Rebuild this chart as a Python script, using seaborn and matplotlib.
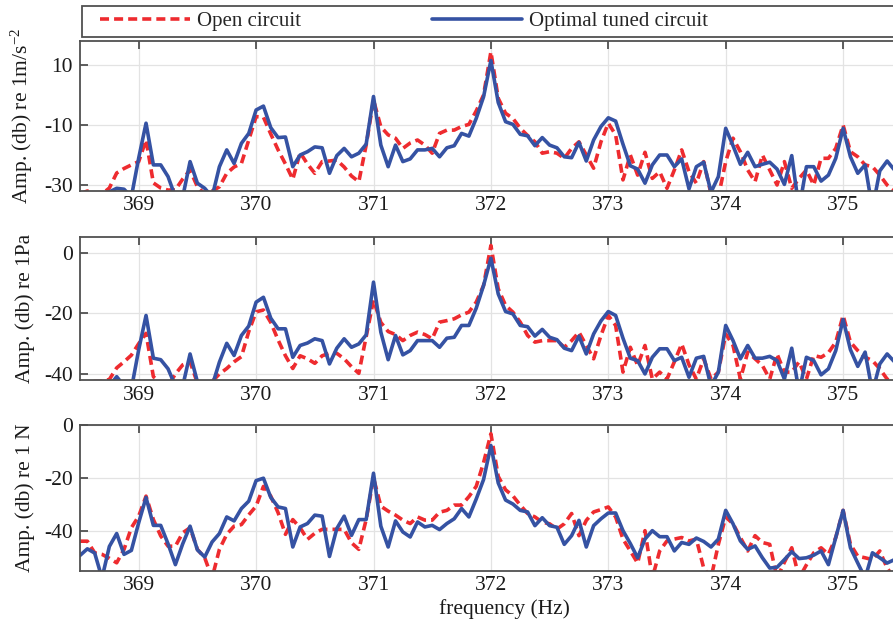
import numpy as np
import pandas as pd
import matplotlib
matplotlib.use("Agg")
import matplotlib.pyplot as plt
import seaborn as sns
from matplotlib.lines import Line2D
from matplotlib.patches import Rectangle

# ---------------- data ----------------
freq_start = 368.5      # Hz, first frequency bin
freq_step = 0.0625      # Hz, bin spacing
n_bins = 112
freq = freq_start + freq_step * np.arange(n_bins)

xticks = [369, 370, 371, 372, 373, 374, 375]

# acceleration, dB re 1 m/s^2
acc_open = [
    -33, -32, -33, -33, -31, -26, -24.5, -23.3, -22.2, -15,
    -29.3, -31, -31.7, -31.6, -28, -25, -30.6, -33, -32, -30.6,
    -26.1, -24, -22.8, -15, -7.2, -7.4, -13, -18.3, -23, -28.1,
    -19.2, -23, -26.1, -22.2, -22, -21.7, -24, -27, -28.9, -16.7,
    -1.7, -10.6, -13.3, -14.4, -17.8, -16, -15, -16.7, -19.4, -12.8,
    -11.7, -11.7, -10.5, -9.8, -5.3, 0, 14.4, -1.1, -6.1, -7.8,
    -11.1, -13.5, -15.6, -19.4, -18.9, -19.4, -21.1, -17.8, -15.6, -20,
    -24.4, -15.6, -9.4, -13.3, -28.3, -20, -26.7, -19.1, -27.8, -25.6,
    -31.1, -25, -18.3, -25.6, -29.4, -22.2, -33, -34, -22.2, -14.4,
    -18.9, -25, -28.9, -20, -25, -30, -22.2, -31.1, -27.8, -25,
    -30, -21.1, -21.1, -17.8, -10, -18.9, -20.6, -23.3, -23.9, -26.7,
    -30, -32]
acc_tuned = [
    -38, -38, -38, -36, -32.3, -31.1, -31.4, -34, -21, -9.4,
    -23.3, -23.3, -27.2, -34, -34, -22.2, -29.4, -31.1, -34, -23.9,
    -18.3, -22.8, -16.1, -12.8, -5, -3.7, -10.9, -14.2, -14, -23.9,
    -20, -18.9, -17.3, -17.6, -26.1, -20.2, -17.8, -20.6, -19.4, -16.4,
    -0.5, -16.7, -23.9, -16.7, -22.2, -21.3, -18.3, -18.3, -17.8, -20.6,
    -17.6, -16.9, -12.8, -13.7, -7.8, -0.6, 11.5, -2.5, -8.9, -9.8,
    -13.1, -13.6, -16.9, -14.2, -16.7, -17.6, -20.6, -20.9, -15.8, -22,
    -15, -10.5, -7.6, -8.7, -16.4, -23.6, -24.7, -29.4, -23.3, -20,
    -20, -23.9, -21.3, -31.3, -23.9, -22.4, -32.4, -27.2, -11.1, -16.9,
    -23.1, -19.1, -23.9, -23.1, -22.4, -24.7, -29.8, -20.2, -38, -23.9,
    -23.9, -28.7, -26.7, -21.1, -11.1, -20.6, -26.1, -23.3, -38, -25.3,
    -22, -25]

# pressure, dB re 1 Pa
pa_open = [
    -44, -43, -42.5, -42.5, -41.8, -38, -36, -33.8, -30, -26.6,
    -40.9, -43, -44, -40, -37, -36, -43, -44, -42.5, -40,
    -38.2, -36, -34.3, -26, -19.5, -18.9, -23, -28.8, -34, -38.2,
    -34, -35, -36.5, -34, -33.2, -33.2, -35, -37.6, -39.8, -27.7,
    -15.6, -23, -26, -27, -29, -27.3, -26.2, -27, -28.4, -22.9,
    -22.4, -21.8, -20.5, -19.6, -16.3, -10.8, 2.4, -11.9, -17.4, -19.6,
    -22.9, -27.3, -29.5, -29, -29, -29, -31.2, -29, -26.2, -30.6,
    -35, -27.3, -20.7, -24, -39.4, -31.2, -37.2, -30.6, -41.7, -39.4,
    -41.7, -36, -30.1, -37, -41.7, -35, -41.7, -39.4, -26.8, -30.6,
    -41.7, -32.8, -35, -37.2, -41.7, -33.4, -39.4, -39.4, -36, -41.7,
    -33.9, -34.5, -33, -29.5, -20.7, -29.5, -32.3, -34.5, -35.6, -38.3,
    -41.7, -43]
pa_tuned = [
    -46, -46, -46, -46, -44, -40.9, -44, -45, -32, -20.7,
    -34.8, -35.3, -38.3, -44, -44, -33.4, -42.6, -44, -44, -36.1,
    -29.9, -33.9, -27.3, -24.2, -16.3, -14.7, -21.6, -25.1, -25.1, -34.5,
    -30.6, -29.8, -28.4, -29, -36.7, -31.5, -28.4, -31.2, -30.1, -27.1,
    -9.7, -26.2, -35.3, -27.3, -33.7, -32.3, -29, -29, -29, -31.2,
    -28.2, -27.9, -24, -24, -18.3, -10.8, -1.8, -13.6, -19.4, -20.2,
    -24, -24.4, -27.5, -25.3, -27.9, -28.7, -31.5, -32.3, -27.5, -33.4,
    -26.8, -22.5, -19.4, -20.7, -28.2, -34.8, -35.6, -40, -34.5, -31.7,
    -31.7, -35.6, -34.5, -41.1, -34.8, -34.2, -44, -39.4, -24, -29,
    -35, -30.6, -34.8, -34.8, -34.2, -35.6, -41.7, -31.5, -46, -34.5,
    -35.6, -40.3, -38.3, -32.3, -22, -32, -37.5, -32.8, -46, -36.7,
    -33.4, -36]

# force, dB re 1 N
n_open = [
    -44, -44, -48.4, -49, -50.5, -52.2, -47.1, -38.9, -34.5, -26.9,
    -35.8, -42, -45.9, -45.9, -40.8, -38.9, -47.1, -50.3, -58, -47.1,
    -41.4, -38.3, -37.7, -34, -30.7, -23.2, -26.9, -33.2, -41.4, -35.8,
    -38.9, -43.3, -41, -39.5, -39.5, -39.5, -39.5, -44.6, -47.1, -35.8,
    -20, -30.7, -32.6, -34.1, -36, -37.3, -34.8, -36, -36, -33,
    -32.3, -30.3, -30.3, -27.1, -23.2, -14.2, -3.2, -19.4, -24.5, -26.8,
    -30.3, -33.5, -34.8, -36.8, -37.4, -39.4, -37.4, -33.5, -41.9, -36.1,
    -32.9, -32, -31, -34.8, -43.2, -47.7, -52.3, -40, -58, -47.7,
    -43.9, -43.2, -42.6, -43.9, -43.2, -54.2, -58, -45.2, -34.8, -37.4,
    -42.6, -47.7, -41.9, -44.5, -45.2, -58, -52, -46.5, -58, -53,
    -48.4, -46.5, -49, -42.6, -32.3, -45.2, -49.7, -50.3, -51, -47.7,
    -54.2, -58]
n_tuned = [
    -49.4, -46.9, -48.5, -58, -46, -41.1, -49, -47.5, -37, -27.4,
    -38, -38, -45, -52.9, -45, -38.3, -47.3, -50, -44.3, -41.1,
    -34.8, -36.3, -31.6, -28.8, -21, -20.1, -27.4, -31, -31.6, -46.2,
    -38.6, -37.3, -34.1, -34.5, -49.8, -39.2, -34.5, -41.8, -35.8, -35.8,
    -18.2, -38.3, -46.2, -36.3, -40.5, -42.4, -36.7, -38.6, -38, -39.6,
    -37.3, -35.5, -31.6, -34.8, -28, -20.6, -7.7, -21.9, -28.4, -29.9,
    -32.3, -32.9, -38.1, -35.1, -38.1, -38.7, -45.2, -41.9, -36.1, -46.2,
    -38.1, -35.5, -33.3, -33.3, -40, -44.9, -50.3, -43.2, -40, -42.3,
    -42.3, -47.7, -44.5, -45.2, -42.8, -44.1, -46.2, -43.2, -32.3, -37.4,
    -43.9, -47.1, -45.8, -50.3, -54.2, -53.9, -51, -48, -50.6, -50.3,
    -49.3, -47.7, -52.9, -42.6, -32.3, -46.5, -52.3, -58, -48.4, -50.3,
    -52.3, -51]

series_labels = ["Open circuit", "Optimal tuned circuit"]
ylabels = ["Amp. (db) re 1m/s$^{\\mathrm{-2}}$", "Amp. (db) re 1Pa", "Amp. (db) re 1 N"]
yticks_list = [[-30, -10, 10], [-40, -20, 0], [-40, -20, 0]]
ylims = [(-31.9, 18.1), (-42.0, 5.1), (-55.2, 0.1)]

# ---------------- style ----------------
sns.set_theme(style="white")
plt.rcParams['font.family'] = ['Liberation Serif', 'DejaVu Serif']
plt.rcParams['mathtext.fontset'] = 'custom'
plt.rcParams['mathtext.rm'] = 'Liberation Serif'
plt.rcParams['mathtext.it'] = 'Liberation Serif:italic'
plt.rcParams['axes.unicode_minus'] = False

RED = "#EE2B2F"
BLUE = "#3552A3"
EDGE = "#505050"
FS = 15.5
LW = 2.6
DASH = (0, (2.5, 1.4))

W, H = 893, 633
fig = plt.figure(figsize=(W / 100, H / 100), dpi=100)

px_per_hz = 117.4
ax_left_px = 80
ax_w = 0.95
x_right = freq_start + ax_w * W / px_per_hz

# panel rectangles in pixels (top, bottom)
panels_px = [(40.7, 190.7), (237.3, 380.0), (425.0, 570.7)]

data_pairs = [(acc_open, acc_tuned), (pa_open, pa_tuned), (n_open, n_tuned)]

axes = []
for k, ((top, bot), (open_v, tuned_v)) in enumerate(zip(panels_px, data_pairs)):
    ax = fig.add_axes([ax_left_px / W, 1 - bot / H, ax_w, (bot - top) / H])
    df = pd.DataFrame({"freq": freq, "open": open_v, "tuned": tuned_v})
    sns.lineplot(data=df, x="freq", y="open", ax=ax, color=RED, lw=LW,
                 linestyle=DASH, estimator=None, sort=False)
    sns.lineplot(data=df, x="freq", y="tuned", ax=ax, color=BLUE, lw=LW,
                 estimator=None, sort=False)
    ax.set_xlim(freq_start, x_right)
    ax.set_ylim(*ylims[k])
    ax.set_xticks(xticks)
    ax.set_yticks(yticks_list[k])
    ax.set_xticklabels([str(t) for t in xticks])
    ax.set_yticklabels([str(t) for t in yticks_list[k]])
    ax.grid(True, color="#E3E3E3", lw=0.9)
    ax.set_axisbelow(True)
    for s in ax.spines.values():
        s.set_color(EDGE)
        s.set_linewidth(1.3)
    ax.tick_params(axis="both", direction="in", length=6, width=1.3, color=EDGE,
                   labelsize=FS, labelcolor="#1a1a1a", top=True, left=True, right=False)
    ax.tick_params(axis="x", pad=4)
    ax.tick_params(axis="y", pad=5)
    ax.set_xlabel("")
    ax.set_ylabel(ylabels[k], fontsize=FS, color="#1a1a1a")
    ax.yaxis.set_label_coords(-0.053, 0.5)
    axes.append(ax)

axes[-1].set_xlabel("frequency (Hz)", fontsize=FS, color="#1a1a1a", labelpad=3)

# legend box across the top
fig.patches.append(Rectangle((82 / W, 1 - 37 / H), 1.0, 31 / H, transform=fig.transFigure,
                             facecolor="white", edgecolor=EDGE, lw=1.3, zorder=0))
handles = [Line2D([], [], color=RED, lw=LW, linestyle=DASH),
           Line2D([], [], color=BLUE, lw=LW)]
fig.legend(handles, series_labels, loc="center left", bbox_to_anchor=(100 / W, 1 - 21.5 / H),
           ncol=2, frameon=False, fontsize=FS - 0.5, handlelength=4.3, handletextpad=0.35,
           columnspacing=6.3, borderpad=0, borderaxespad=0)

fig.savefig("out.png", dpi=100)
